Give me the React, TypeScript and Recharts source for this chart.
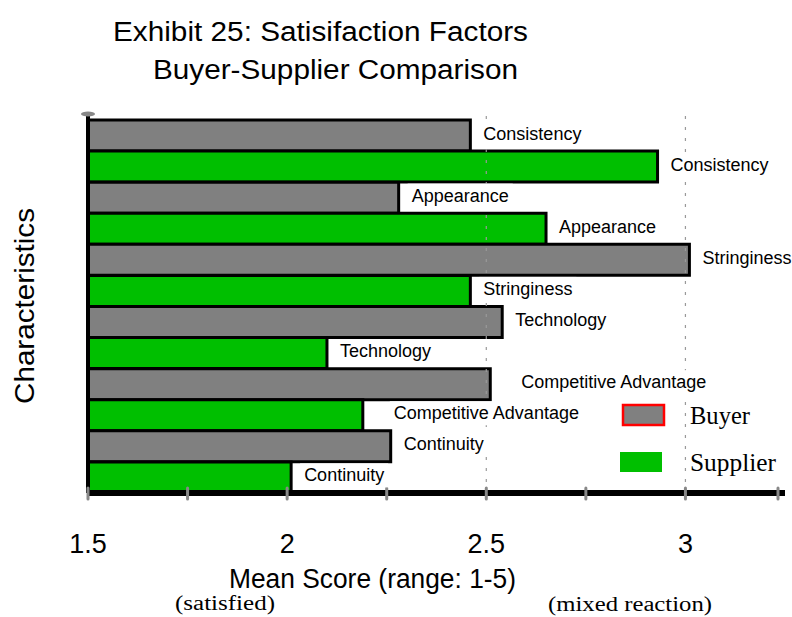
import React from 'react';
import { BarChart, Bar, XAxis, YAxis, Cell, LabelList, ReferenceLine } from 'recharts';

const factors = ['Consistency', 'Appearance', 'Stringiness', 'Technology', 'Competitive Advantage', 'Continuity'];
const buyerScores = [2.46, 2.28, 3.01, 2.54, 2.51, 2.26];
const supplierScores = [2.93, 2.65, 2.46, 2.1, 2.19, 2.01];
const groups = ['Buyer', 'Supplier'];
const xTicks = [1.5, 1.75, 2, 2.25, 2.5, 2.75, 3, 3.25];
const labelledTicks = [1.5, 2, 2.5, 3];
const gridValues = [2.5, 3];

const GRAY = '#808080';
const GREEN = '#00BF00';
const SANS = '"Liberation Sans", Arial, sans-serif';
const SERIF = '"Liberation Serif", "Times New Roman", serif';

// one row per bar, buyer first then supplier for each factor
const rows = factors.flatMap((name, i) => [
  { key: `${name}-${groups[0]}`, name, group: groups[0], score: buyerScores[i] },
  { key: `${name}-${groups[1]}`, name, group: groups[1], score: supplierScores[i] },
]);

let ctx: CanvasRenderingContext2D | null = null;
function textWidth(s: string, font: string) {
  if (!ctx) ctx = document.createElement('canvas').getContext('2d');
  if (!ctx) return s.length * 9;
  ctx.font = font;
  return ctx.measureText(s).width;
}

const AXIS_Y = 493;

function XTick(props: any) {
  const { x, payload } = props;
  const v = payload.value;
  return (
    <g>
      <line x1={x} x2={x} y1={AXIS_Y - 5} y2={AXIS_Y + 6} stroke="#888" strokeWidth={3} strokeLinecap="round" />
      {labelledTicks.includes(v) && (
        <text x={x} y={553} textAnchor="middle" fontSize={27} fontFamily={SANS} fill="#000">
          {String(v)}
        </text>
      )}
    </g>
  );
}

function BarLabel(props: any) {
  const { x, y, width, height, value } = props;
  const gap = String(value).startsWith('Competitive') ? 31 : 13;
  const tx = Number(x) + Number(width) + gap;
  const ty = Number(y) + Number(height) / 2 - 2;
  const w = textWidth(String(value), `18px ${SANS}`);
  return (
    <g>
      <rect x={tx - 4} y={ty - 12} width={w + 8} height={24} fill="#fff" />
      <text x={tx} y={ty} dominantBaseline="central" fontSize={18} fontFamily={SANS} fill="#000">
        {value}
      </text>
    </g>
  );
}

export default function App() {
  return (
    <div style={{ position: 'absolute', left: 0, top: 0, width: 792, height: 617, background: '#fff' }}>
      <BarChart
        width={792}
        height={617}
        data={rows}
        layout="vertical"
        barCategoryGap={0}
        margin={{ top: 114, right: 7, bottom: 94, left: 78 }}
      >
        <XAxis
          type="number"
          domain={[1.5, 3.25]}
          ticks={xTicks}
          allowDataOverflow
          tick={<XTick />}
          tickLine={false}
          axisLine={{ stroke: '#000', strokeWidth: 6 }}
          height={30}
        />
        <YAxis
          type="category"
          dataKey="key"
          width={10}
          tick={false}
          tickLine={false}
          padding={{ top: 6, bottom: 0 }}
          axisLine={{ stroke: '#000', strokeWidth: 4 }}
        />
        {gridValues.map((v) => (
          <ReferenceLine key={v} x={v} stroke="#999" strokeWidth={1.2} strokeDasharray="3 8" />
        ))}
        <Bar dataKey="score" stroke="#000" strokeWidth={3} isAnimationActive={false}>
          {rows.map((r) => (
            <Cell key={r.key} fill={r.group === 'Buyer' ? GRAY : GREEN} />
          ))}
          <LabelList dataKey="name" content={<BarLabel />} />
        </Bar>
      </BarChart>

      <svg width={792} height={617} style={{ position: 'absolute', left: 0, top: 0, pointerEvents: 'none' }}>
        <ellipse cx={88} cy={114} rx={7} ry={2.5} fill="#888" />
        <text x={113} y={41} fontSize={27} fontFamily={SANS} textLength={415} lengthAdjust="spacingAndGlyphs">
          Exhibit 25: Satisifaction Factors
        </text>
        <text x={153} y={79} fontSize={27} fontFamily={SANS} textLength={365} lengthAdjust="spacingAndGlyphs">
          Buyer-Supplier Comparison
        </text>
        <text
          transform="translate(34,306) rotate(-90)"
          textAnchor="middle"
          fontSize={28}
          fontFamily={SANS}
          textLength={196}
          lengthAdjust="spacingAndGlyphs"
        >
          Characteristics
        </text>
        <text x={229} y={588} fontSize={27} fontFamily={SANS} textLength={287} lengthAdjust="spacingAndGlyphs">
          Mean Score (range: 1-5)
        </text>
        <text x={175} y={610} fontSize={20} fontFamily={SERIF} textLength={100} lengthAdjust="spacingAndGlyphs">
          (satisfied)
        </text>
        <text x={548} y={611} fontSize={20} fontFamily={SERIF} textLength={164} lengthAdjust="spacingAndGlyphs">
          (mixed reaction)
        </text>

        <rect x={623} y={405} width={41} height={20} fill={GRAY} stroke="#F00" strokeWidth={2.5} />
        <text x={690} y={424} fontSize={25} fontFamily={SERIF} textLength={60} lengthAdjust="spacingAndGlyphs">
          {groups[0]}
        </text>
        <rect x={620} y={452} width={42} height={20} fill={GREEN} />
        <text x={690} y={471} fontSize={25} fontFamily={SERIF} textLength={86} lengthAdjust="spacingAndGlyphs">
          {groups[1]}
        </text>
      </svg>
    </div>
  );
}
